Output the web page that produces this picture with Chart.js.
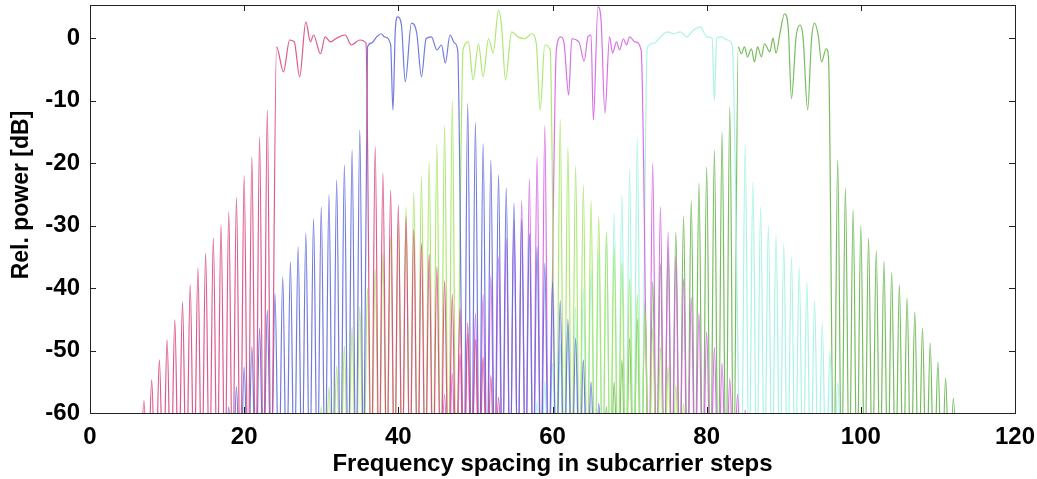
<!DOCTYPE html>
<html>
<head>
<meta charset="utf-8">
<title>Subcarrier spectra</title>
<script src="https://cdn.jsdelivr.net/npm/chart.js@4.4.0/dist/chart.umd.min.js"></script>
<style>
  html, body { margin: 0; padding: 0; background: #fff; }
  #wrap { width: 1037px; height: 479px; }
</style>
</head>
<body>
<div id="wrap"><canvas id="spectrum" width="1037" height="479"></canvas></div>
<script>
// axis ticks
const xTicks = [0, 20, 40, 60, 80, 100, 120];
const yTicks = [0, -10, -20, -30, -40, -50, -60];

// side lobe nulls drop below the plot, this is where they end up
const nullLevel = -72;

// red block (side lobe peaks are one subcarrier apart)
const redLeftStart = 7;
const redLeft = [-58, -54.7, -51.5, -48.3, -45.1, -42.2, -39.5, -36.8, -34.4, -32, -29.9, -27.8, -25.5, -22, -19, -15.8, -11.5];
const redTop = [[24.2, -1.4], [25.1, -5.4], [25.9, -0.3], [26.5, -0.6], [27.2, -6.2], [28.0, 2.6], [28.6, -0.6], [29.0, 0.5], [29.9, -2.5], [30.5, 0.2], [31.2, -0.6], [32.0, 0], [33.1, 0.5], [33.9, -1.1], [35.0, -0.3], [35.8, -0.8]];
const redRightStart = 37;
const redRight = [-17.4, -21.6, -24.3, -26.7, -28.6, -30.7, -32.8, -34.6, -36.6, -38.8, -41, -43.2, -45.6, -48.2, -51, -54, -57.5];

// blue block
const blueLeftStart = 18;
const blueLeft = [-59, -55.8, -52.6, -49.4, -46.4, -43.5, -40.9, -38.2, -35.8, -33.4, -31.2, -28.9, -27, -25.1, -22.7, -20.3, -17.9, -14.7];
const blueTop = [[36.0, -1.4], [36.5, -0.8], [37.2, 0.2], [37.8, 0.7], [38.2, 0.2], [39.0, -1], [39.3, -11.5], [39.6, 1], [39.9, 3.4], [40.4, 2.1], [40.9, -7], [41.7, 2.4], [42.4, 0.7], [43.0, -6.2], [43.6, -0.1], [44.3, 0.2], [45.0, -1.9], [45.6, -1.1], [46.1, -4], [46.7, 0.5], [47.3, -0.8], [47.7, -1.9]];
const blueRightStart = 49;
const blueRight = [-10.5, -13.5, -16.9, -19.5, -21.9, -24, -26.4, -29.1, -31.2, -33.4, -36, -39, -42, -45, -48, -51.5, -55, -58.5];

// light green block
const lgreenLeftStart = 30;
const lgreenLeft = [-59, -55.8, -52.5, -49.3, -46.2, -43, -40, -37, -34.3, -31.8, -29.3, -27, -24.6, -22.2, -19.8, -17, -14, -10];
const lgreenTop = [[48.4, -1.9], [49.1, -0.6], [49.7, -6.7], [50.4, -0.9], [51.0, -6.2], [51.7, -0.1], [52.3, -2.4], [53.0, 4.5], [53.4, 1.8], [53.9, -6.7], [54.7, 1.0], [55.5, 0.2], [56.4, -0.1], [57.3, 0.7], [57.9, -0.9], [58.4, -11.5], [59.0, -1.1], [59.7, -1.9]];
const lgreenRightStart = 61;
const lgreenRight = [-13, -17.5, -20.5, -23.5, -26, -28.5, -31, -33.5, -36, -38.5, -41, -43.5, -46.5, -49.5, -52.5, -55.5, -58.5];

// magenta block
const magentaLeftStart = 46;
const magentaLeft = [-57, -53.7, -50.5, -47.3, -44, -41, -38, -35, -32, -29, -26, -22.5, -19, -14];
const magentaTop = [[60.5, -1.9], [61.1, 0.2], [61.5, -0.8], [62.1, -9.1], [62.5, -0.1], [63.1, -0.3], [63.5, -0.8], [64.1, -3.7], [64.6, 0.2], [65.0, 0.5], [65.3, -13.1], [65.9, 5], [66.3, 2.9], [66.8, -12], [67.4, 0.2], [67.8, -2.4], [68.3, -0.6], [68.7, -1.9], [69.2, -0.1], [69.6, -1.1], [70.0, 0.2], [70.7, -0.6], [71.5, -1.9]];
const magentaRightStart = 73;
const magentaRight = [-20, -27, -31, -35, -38.5, -41.5, -44, -47, -49.5, -52, -54.5, -57, -59.5];

// cyan block
const cyanLeftStart = 58;
const cyanLeft = [-58, -55, -52, -49, -46, -43, -40, -37, -34, -31, -28, -25, -21, -16];
const cyanTop = [[72.3, -1.5], [73.2, -0.8], [74.0, 0.2], [74.9, 1.0], [75.7, 0.7], [76.6, 1.0], [77.4, 0.2], [78.3, 1.3], [79.2, 1.8], [80.0, 0.2], [80.7, 0], [81.0, -10], [81.3, 0], [81.9, 0.2], [82.7, -0.3], [83.3, -1]];
const cyanRightStart = 85;
const cyanRight = [-17, -23, -27, -30, -31.5, -33, -35, -36.6, -39, -42, -45.6, -50, -55];

// green block
const greenLeftStart = 67;
const greenLeft = [-59, -55, -51.5, -48, -45, -42, -39, -36, -33.5, -31, -28.5, -26, -23.2, -20.6, -17.9, -15, -11];
const greenTop = [[84.1, -1.4], [84.5, -2.5], [84.9, -1.4], [85.3, -3], [85.8, -1.7], [86.2, -3.8], [86.6, -1.4], [87.1, -3], [87.5, -0.9], [88.2, -2.2], [88.6, 0], [89.0, -2.4], [89.5, 0.7], [90.1, 3.9], [90.6, 1.3], [91.0, -9.7], [91.6, 0.2], [92.1, 2.1], [92.5, 0.2], [93.1, -11.5], [93.6, -0.3], [94.0, 2.4], [94.5, 0.2], [94.9, -3.8], [95.5, -1.7], [95.8, -3]];
const greenRightStart = 97;
const greenRight = [-19.5, -24, -27.5, -30, -32, -34, -35.7, -37.5, -39.5, -41.6, -43.8, -46.4, -48.8, -51.8, -54.4, -57.6];

// one lobe per peak, with the null on each side
function lobes(start, peaks) {
  const pts = [];
  peaks.forEach((p, i) => {
    pts.push({ x: start + i - 0.5, y: nullLevel });
    pts.push({ x: start + i, y: p });
  });
  pts.push({ x: start + peaks.length - 0.5, y: nullLevel });
  return pts;
}

function spectrum(leftStart, left, top, rightStart, right) {
  return lobes(leftStart, left)
    .concat(top.map(p => ({ x: p[0], y: p[1] })))
    .concat(lobes(rightStart, right));
}

function line(data, color) {
  return {
    data: data,
    borderColor: color,
    borderWidth: 1.2,
    pointRadius: 0,
    fill: false,
    cubicInterpolationMode: 'monotone'
  };
}

const font = { family: "'Liberation Sans', Arial, sans-serif", size: 24, weight: 'bold' };

// matlab style box with inward ticks, plus the y title
const boxFrame = {
  id: 'boxFrame',
  afterDatasetsDraw(chart) {
    const { ctx, chartArea: a, scales } = chart;
    ctx.save();
    ctx.strokeStyle = '#222';
    ctx.lineWidth = 1;
    ctx.strokeRect(a.left + 0.5, a.top + 0.5, a.right - a.left, a.bottom - a.top);
    ctx.beginPath();
    xTicks.forEach(v => {
      const px = Math.round(scales.x.getPixelForValue(v)) + 0.5;
      ctx.moveTo(px, a.bottom); ctx.lineTo(px, a.bottom - 6);
      ctx.moveTo(px, a.top); ctx.lineTo(px, a.top + 6);
    });
    yTicks.forEach(v => {
      const py = Math.round(scales.y.getPixelForValue(v)) + 0.5;
      ctx.moveTo(a.left, py); ctx.lineTo(a.left + 6, py);
      ctx.moveTo(a.right, py); ctx.lineTo(a.right - 6, py);
    });
    ctx.stroke();

    ctx.translate(22, 195);
    ctx.rotate(-Math.PI / 2);
    ctx.fillStyle = '#000';
    ctx.font = 'bold 23px "Liberation Sans", Arial, sans-serif';
    ctx.textAlign = 'center';
    ctx.textBaseline = 'middle';
    ctx.fillText('Rel. power [dB]', 0, 0);
    ctx.restore();
  }
};

new Chart(document.getElementById('spectrum'), {
  type: 'line',
  data: {
    datasets: [
      line(spectrum(redLeftStart, redLeft, redTop, redRightStart, redRight), 'rgba(220, 72, 128, 0.9)'),
      line(spectrum(blueLeftStart, blueLeft, blueTop, blueRightStart, blueRight), 'rgba(98, 108, 222, 0.9)'),
      line(spectrum(lgreenLeftStart, lgreenLeft, lgreenTop, lgreenRightStart, lgreenRight), 'rgba(165, 230, 100, 0.9)'),
      line(spectrum(magentaLeftStart, magentaLeft, magentaTop, magentaRightStart, magentaRight), 'rgba(214, 98, 230, 0.9)'),
      line(spectrum(cyanLeftStart, cyanLeft, cyanTop, cyanRightStart, cyanRight), 'rgba(165, 242, 228, 0.95)'),
      line(spectrum(greenLeftStart, greenLeft, greenTop, greenRightStart, greenRight), 'rgba(104, 182, 78, 0.9)')
    ]
  },
  options: {
    responsive: false,
    animation: false,
    devicePixelRatio: 1,
    layout: { padding: { top: 5, right: 22, left: 0, bottom: 0 } },
    plugins: { legend: { display: false }, tooltip: { enabled: false } },
    scales: {
      x: {
        type: 'linear',
        min: 0,
        max: 120,
        grid: { display: false, drawTicks: false },
        border: { display: false },
        ticks: { stepSize: 20, font: font, color: '#000', padding: 10, maxRotation: 0 },
        title: { display: true, text: 'Frequency spacing in subcarrier steps', font: font, color: '#000', padding: { top: 0, bottom: 0 } },
        afterFit(scale) {
          scale.height = 66;
          scale.paddingLeft = 0;
          scale.paddingRight = 0;
        }
      },
      y: {
        min: -60,
        max: 5.3,
        grid: { display: false, drawTicks: false },
        border: { display: false },
        ticks: { stepSize: 10, includeBounds: false, font: font, color: '#000', padding: 10 },
        afterFit(scale) {
          scale.width = 90;
          scale.paddingTop = 0;
          scale.paddingBottom = 0;
        }
      }
    }
  },
  plugins: [boxFrame]
});
</script>
</body>
</html>
